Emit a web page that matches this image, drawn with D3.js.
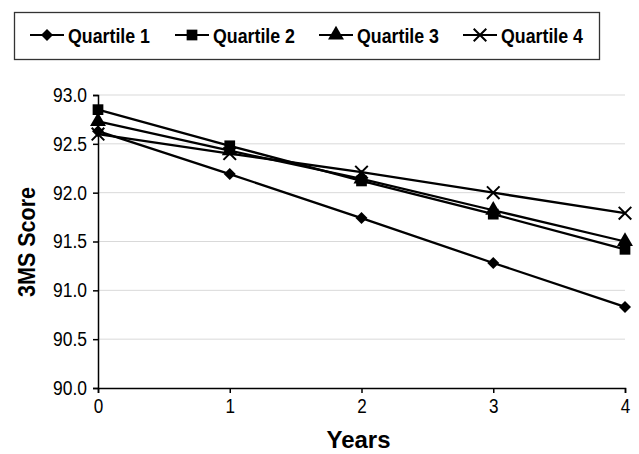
<!DOCTYPE html>
<html>
<head>
  <title>3MS Score by quartile</title>
  <style>
    body { margin: 0; background: #fff; }
    text { font-family: "Liberation Sans", Arial, sans-serif; }
  </style>
</head>
<body>
  <svg width="639" height="454"></svg>

  <script src="https://cdn.jsdelivr.net/npm/d3@7/dist/d3.min.js"></script>
  <script type="text/javascript">
    var years = [0, 1, 2, 3, 4]
    var q1 = [92.63, 92.19, 91.74, 91.28, 90.83]
    var q2 = [92.85, 92.48, 92.12, 91.78, 91.42]
    var q3 = [92.73, 92.43, 92.14, 91.82, 91.50]
    var q4 = [92.60, 92.40, 92.21, 92.00, 91.79]
    var seriesNames = ['Quartile 1', 'Quartile 2', 'Quartile 3', 'Quartile 4']
    var yTicks = [90.0, 90.5, 91.0, 91.5, 92.0, 92.5, 93.0]

    var series = [q1, q2, q3, q4].map((vals, i) => ({name: seriesNames[i], values: vals}))
    var symbols = [d3.symbolDiamond2, d3.symbolSquare, d3.symbolTriangle, d3.symbolX]
    var symSizes = [92, 115, 110, 105]

    var svg = d3.select('svg'),
      margin = {left: 98, right: 14, top: 95, bottom: 66},
      width = +svg.attr('width'),
      height = +svg.attr('height')

    var x = d3.scaleLinear().domain([0, 4]).range([margin.left, width - margin.right])
    var y = d3.scaleLinear().domain([90, 93]).range([height - margin.bottom, margin.top])

    // grid
    svg.append('g').selectAll('line')
      .data(yTicks.slice(1)).enter()
      .append('line')
      .attr('x1', x(0)).attr('x2', x(4))
      .attr('y1', d => y(d)).attr('y2', d => y(d))
      .attr('stroke', '#d9d9d9').attr('stroke-width', 1)

    svg.append('g')
      .attr('transform', 'translate(' + x(0) + ',0)')
      .call(d3.axisLeft(y).tickValues(yTicks).tickFormat(d3.format('.1f')).tickSize(5).tickPadding(6))
      .selectAll('.tick text').attr('textLength', 34).attr('lengthAdjust', 'spacingAndGlyphs')
    svg.append('g')
      .attr('transform', 'translate(0,' + y(90) + ')')
      .call(d3.axisBottom(x).tickValues(years).tickFormat(d3.format('d')).tickSize(5).tickPadding(6))
      .selectAll('.tick text').attr('textLength', 9.5).attr('lengthAdjust', 'spacingAndGlyphs')

    svg.selectAll('.domain, .tick line').attr('stroke', '#000').attr('stroke-width', 1.5)
    svg.selectAll('.tick text').attr('font-size', 20).attr('fill', '#000')
      .style('font-family', '"Liberation Sans", Arial, sans-serif')

    svg.append('text')
      .attr('x', (x(0) + x(4)) / 2 - 3).attr('y', 448)
      .attr('text-anchor', 'middle').attr('font-size', 24).attr('font-weight', 'bold')
      .attr('textLength', 64).attr('lengthAdjust', 'spacingAndGlyphs')
      .text('Years')
    svg.append('text')
      .attr('transform', 'translate(35,' + 242 + ') rotate(-90)')
      .attr('text-anchor', 'middle').attr('font-size', 23).attr('font-weight', 'bold')
      .attr('textLength', 110).attr('lengthAdjust', 'spacingAndGlyphs')
      .text('3MS Score')

    var line = d3.line().x((d, i) => x(years[i])).y(d => y(d))

    var g = svg.selectAll('.series').data(series).enter().append('g').attr('class', 'series')
    g.append('path')
      .attr('d', d => line(d.values))
      .attr('fill', 'none').attr('stroke', '#000').attr('stroke-width', 2.3)
    g.each(function (s, si) {
      d3.select(this).selectAll('.pt')
        .data(s.values).enter()
        .append('path')
        .attr('class', 'pt')
        .attr('transform', (d, i) => 'translate(' + x(years[i]) + ',' + y(d) + ')')
        .attr('d', d3.symbol().type(symbols[si]).size(symSizes[si]))
        .attr('fill', '#000').attr('stroke', '#000').attr('stroke-width', si === 3 ? 2 : 0)
    })

    // legend
    var legend = svg.append('g')
    legend.append('rect')
      .attr('x', 14.5).attr('y', 12.5).attr('width', 585).attr('height', 47)
      .attr('fill', '#fff').attr('stroke', '#333').attr('stroke-width', 1.3)
    var legX = [30, 175, 319, 463]
    var li = legend.selectAll('.li').data(series).enter().append('g')
      .attr('transform', (d, i) => 'translate(' + legX[i] + ',35)')
    li.append('line').attr('x1', 0).attr('x2', 34).attr('stroke', '#000').attr('stroke-width', 2)
    li.append('path')
      .attr('transform', 'translate(17,0)')
      .attr('d', (d, i) => d3.symbol().type(symbols[i]).size(symSizes[i])())
      .attr('fill', '#000').attr('stroke', '#000').attr('stroke-width', (d, i) => i === 3 ? 2 : 0)
    li.append('text')
      .attr('x', 38).attr('y', 7.5)
      .attr('font-size', 21).attr('font-weight', 'bold')
      .attr('textLength', 82).attr('lengthAdjust', 'spacingAndGlyphs')
      .text(d => d.name)
  </script>
</body>
</html>
